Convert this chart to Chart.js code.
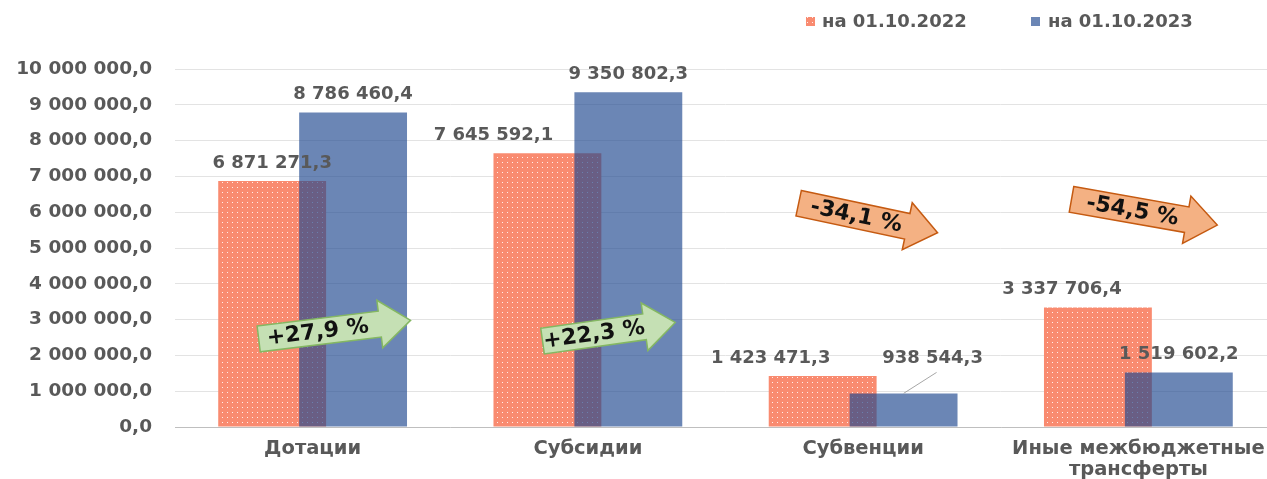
<!DOCTYPE html>
<html><head><meta charset="utf-8">
<script src="https://cdn.jsdelivr.net/npm/chart.js@4/dist/chart.umd.min.js"></script>
<style>html,body{margin:0;padding:0;background:#fff;overflow:hidden;width:1267px;height:479px}#wrap{width:1276px;height:479px;position:relative}</style>
</head><body><div id="wrap"><canvas id="c"></canvas></div>
<script>
// ---- data ----
const categories = ['Дотации', 'Субсидии', 'Субвенции', ['Иные межбюджетные', 'трансферты']];
const seriesNames = ['на 01.10.2022', 'на 01.10.2023'];
const values2022 = [6871271.3, 7645592.1, 1423471.3, 3337706.4];
const values2023 = [8786460.4, 9350802.3, 938544.3, 1519602.2];
const changeLabels = ['+27,9 %', '+22,3 %', '-34,1 %', '-54,5 %'];
const yMin = 0, yMax = 10000000, yStep = 1000000;

// ---- styles / positions ----
const FONT = 'DejaVu Sans';
const TEXT = '#595959';
const ORANGE = '#F98B70';
const BLUE = 'rgba(30,72,142,0.66)';

function makePattern() {
  const t = document.createElement('canvas');
  t.width = 5; t.height = 5;
  const g = t.getContext('2d');
  g.fillStyle = ORANGE; g.fillRect(0, 0, 5, 5);
  g.fillStyle = 'rgba(255,255,255,0.85)'; g.fillRect(2, 2, 1, 1);
  return g.createPattern(t, 'repeat');
}
const orangePattern = makePattern();

function fmt(v) {
  const s = Math.abs(v).toFixed(1).split('.');
  const i = s[0].replace(/\B(?=(\d{3})+(?!\d))/g, ' ');
  return (v < 0 ? '-' : '') + i + ',' + s[1];
}

// label offsets per dataset / category (pixels)
const labelOffsets = [
  [{dx: 0, dy: 0}, {dx: -54, dy: 0}, {dx: -52, dy: 0}, {dx: -36, dy: 0}],
  [{dx: 0, dy: 0}, {dx: 0, dy: 0}, {dx: 29, dy: -17, leader: true}, {dx: 0, dy: 0}]
];
// arrows: anchored to category index + dx, y value, angle (deg), length, text offset
const arrowSpecs = [
  {dx: 22, y: 2720000, angle: -7, len: 153, tx: -17, fill: '#C5E0B4', stroke: '#84B762'},
  {dx: 21, y: 2660000, angle: -8, len: 134, tx: -15, fill: '#C5E0B4', stroke: '#84B762'},
  {dx: 5, y: 5840000, angle: 12, len: 142, tx: -12, fill: '#F4B183', stroke: '#C55A11'},
  {dx: 6, y: 6000000, angle: 10, len: 148, tx: -12, fill: '#F4B183', stroke: '#C55A11'}
];

// draw the 2023 series on top of the 2022 series (overlapping bars)
const layerPlugin = {
  id: 'layer',
  beforeDatasetDraw(chart, args) {
    if (args.index === 1 && !chart.$drawTop) return false;
  },
  afterDatasetsDraw(chart) {
    chart.$drawTop = true;
    const meta = chart.getDatasetMeta(1);
    chart.ctx.save();
    meta.controller.draw();
    chart.ctx.restore();
    chart.$drawTop = false;
  }
};

const labelsPlugin = {
  id: 'valueLabels',
  afterDatasetsDraw(chart) {
    const ctx = chart.ctx;
    ctx.save();
    ctx.font = 'bold 18px ' + FONT;
    ctx.fillStyle = TEXT;
    ctx.textAlign = 'center';
    ctx.textBaseline = 'middle';
    chart.data.datasets.forEach((ds, di) => {
      const meta = chart.getDatasetMeta(di);
      meta.data.forEach((el, i) => {
        const o = labelOffsets[di][i];
        const x = el.x + o.dx, y = el.y - 18 + o.dy;
        if (o.leader) {
          ctx.strokeStyle = '#A6A6A6'; ctx.lineWidth = 1;
          ctx.beginPath(); ctx.moveTo(el.x, el.y); ctx.lineTo(x + 4, y + 14); ctx.stroke();
        }
        ctx.fillText(fmt(ds.data[i]), x, y);
      });
    });
    ctx.restore();
  }
};

const arrowsPlugin = {
  id: 'arrows',
  afterDraw(chart) {
    const ctx = chart.ctx;
    const xs = chart.scales.x, ys = chart.scales.y;
    arrowSpecs.forEach((a, i) => {
      const cx = xs.getPixelForValue(i) + a.dx;
      const cy = ys.getPixelForValue(a.y);
      const L = a.len, h = 13, H = 24, hl = 31;
      ctx.save();
      ctx.translate(cx, cy);
      ctx.rotate(a.angle * Math.PI / 180);
      ctx.beginPath();
      ctx.moveTo(-L / 2, -h);
      ctx.lineTo(L / 2 - hl, -h);
      ctx.lineTo(L / 2 - hl, -H);
      ctx.lineTo(L / 2, 0);
      ctx.lineTo(L / 2 - hl, H);
      ctx.lineTo(L / 2 - hl, h);
      ctx.lineTo(-L / 2, h);
      ctx.closePath();
      ctx.fillStyle = a.fill; ctx.fill();
      ctx.strokeStyle = a.stroke; ctx.lineWidth = 1.5; ctx.stroke();
      ctx.fillStyle = '#111';
      ctx.font = 'bold 22px ' + FONT;
      ctx.textAlign = 'center'; ctx.textBaseline = 'middle';
      ctx.fillText(changeLabels[i], a.tx, 1);
      ctx.restore();
    });
  }
};

const legendPlugin = {
  id: 'customLegend',
  afterDraw(chart) {
    const ctx = chart.ctx;
    const items = [{mx: 806, tx: 822}, {mx: 1031, tx: 1048}];
    ctx.save();
    ctx.font = 'bold 18px ' + FONT;
    ctx.textBaseline = 'middle';
    ctx.textAlign = 'left';
    chart.data.datasets.forEach((ds, di) => {
      const it = items[di];
      ctx.fillStyle = ds.backgroundColor;
      ctx.fillRect(it.mx, 17, 9, 9);
      ctx.fillStyle = TEXT;
      ctx.fillText(ds.label, it.tx, 22);
    });
    ctx.restore();
  }
};

new Chart(document.getElementById('c'), {
  type: 'bar',
  data: {
    labels: categories,
    datasets: [
      {label: seriesNames[0], data: values2022, backgroundColor: orangePattern, borderWidth: 0},
      {label: seriesNames[1], data: values2023, backgroundColor: BLUE, borderWidth: 0}
    ]
  },
  options: {
    responsive: true,
    maintainAspectRatio: false,
    animation: false,
    devicePixelRatio: 1,
    categoryPercentage: 0.588,
    barPercentage: 1.333,
    layout: {padding: {top: 69, left: 10, right: 0, bottom: 0}},
    plugins: {legend: {display: false}, tooltip: {enabled: false}},
    scales: {
      x: {
        grid: {display: false, drawTicks: false},
        border: {color: '#BFBFBF', width: 1},
        ticks: {color: TEXT, font: {family: FONT, size: 19.5, weight: 'bold', lineHeight: 1.08}, padding: 11, maxRotation: 0, autoSkip: false},
        afterFit(s) { s.height = 52; }
      },
      y: {
        min: yMin, max: yMax,
        grid: {color: '#E3E3E3', drawTicks: false},
        border: {display: false},
        ticks: {stepSize: yStep, color: TEXT, font: {family: FONT, size: 18.5, weight: 'bold'}, padding: 23, callback: v => fmt(v)},
        afterFit(s) { s.width = 165; }
      }
    }
  },
  plugins: [layerPlugin, labelsPlugin, arrowsPlugin, legendPlugin]
});
</script>
</body></html>
